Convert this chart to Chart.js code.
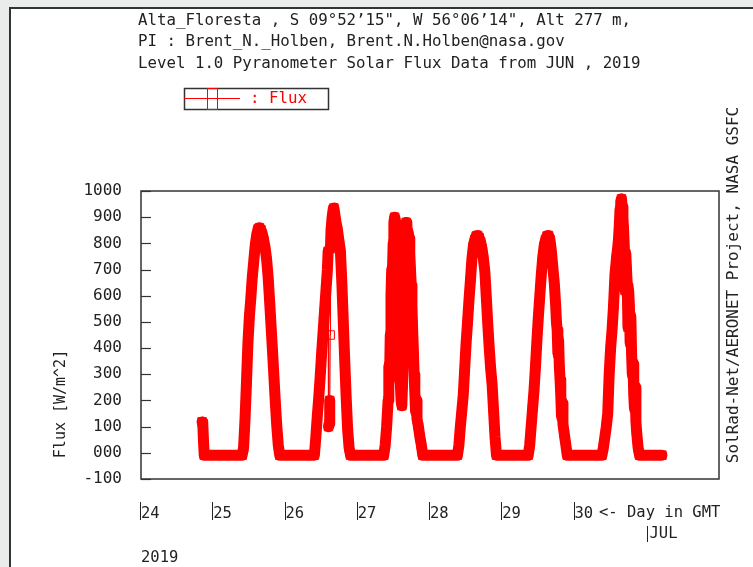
<!DOCTYPE html>
<html>
<head>
<meta charset="utf-8">
<script src="https://cdn.jsdelivr.net/npm/chart.js@4"></script>
<style>
html, body { margin: 0; padding: 0; width: 753px; height: 567px; overflow: hidden; background: #e9eceb; }
#frame { position: absolute; left: 9px; top: 7px; width: 744px; height: 560px; background: #fff; border-left: 2px solid #333; border-top: 2px solid #333; }
#chart { position: absolute; left: 0; top: 0; }
</style>
</head>
<body>
<div id="frame"></div>
<canvas id="chart" width="753" height="567"></canvas>
<script>
const MONO = "'DejaVu Sans Mono', 'Liberation Mono', monospace";

const titleLines = [
    'Alta_Floresta , S 09°52’15", W 56°06’14", Alt 277 m,',
    'PI : Brent_N._Holben, Brent.N.Holben@nasa.gov',
    'Level 1.0 Pyranometer Solar Flux Data from JUN , 2019'
];
const dayTicks = [24, 25, 26, 27, 28, 29, 30];
const fluxTicks = [-100, 0, 100, 200, 300, 400, 500, 600, 700, 800, 900, 1000];

// day in GMT (June) and flux in W/m^2
const t24 = [24.845, 24.855, 24.865, 24.875];
const f24 = [118, 112, 45, -9];

const t25 = [25.40, 25.42, 25.44, 25.46, 25.48, 25.50, 25.52, 25.54, 25.56, 25.58, 25.60, 25.62, 25.64, 25.66,
             25.68, 25.70, 25.72, 25.74, 25.76, 25.78, 25.80, 25.82, 25.84, 25.86, 25.88, 25.90, 25.92];
const f25 = [-9, 20, 130, 270, 420, 520, 590, 670, 730, 790, 830, 855, 860, 852,
             835, 810, 780, 735, 670, 580, 485, 390, 290, 190, 100, 30, -9];

const t26 = [26.40, 26.42, 26.44, 26.46, 26.48, 26.50, 26.52, 26.54, 26.56, 26.58, 26.59, 26.595, 26.605, 26.612,
             26.618, 26.622, 26.63, 26.645, 26.66, 26.67, 26.68, 26.70, 26.72, 26.74, 26.76, 26.78, 26.80, 26.82,
             26.84, 26.86, 26.88, 26.90];
const f26 = [-9, 60, 140, 210, 290, 380, 460, 540, 620, 700, 770, 100, 110, 200,
             450, 780, 850, 900, 930, 935, 915, 880, 850, 810, 770, 650, 500, 350,
             210, 90, 20, -9];

const t27 = [27.36, 27.38, 27.40, 27.42, 27.43, 27.44, 27.45, 27.46, 27.47, 27.48, 27.49, 27.50, 27.51, 27.52,
             27.53, 27.54, 27.55, 27.56, 27.57, 27.58, 27.59, 27.60, 27.61, 27.62, 27.63, 27.64, 27.65, 27.66,
             27.67, 27.68, 27.69, 27.70, 27.71, 27.72, 27.73, 27.74, 27.75, 27.76, 27.77, 27.78, 27.79, 27.80,
             27.81, 27.82, 27.84, 27.86, 27.88, 27.90];
const f27 = [-9, 30, 100, 200, 330, 280, 450, 600, 700, 690, 800, 880, 900, 890,
             870, 820, 720, 600, 480, 360, 260, 200, 180, 260, 400, 560, 700, 820,
             880, 870, 790, 840, 820, 760, 700, 640, 560, 470, 390, 300, 230, 160,
             200, 130, 100, 60, 30, -9];

const t28 = [28.38, 28.40, 28.42, 28.44, 28.46, 28.48, 28.50, 28.52, 28.54, 28.56, 28.58, 28.60, 28.62, 28.64,
             28.66, 28.68, 28.70, 28.72, 28.74, 28.76, 28.78, 28.80, 28.82, 28.84, 28.86, 28.88, 28.90, 28.92];
const f28 = [-9, 30, 100, 160, 220, 320, 420, 500, 585, 660, 740, 790, 815, 828,
             830, 822, 805, 780, 740, 690, 590, 490, 400, 320, 260, 160, 60, -9];

const t29 = [29.36, 29.38, 29.40, 29.42, 29.44, 29.46, 29.48, 29.50, 29.52, 29.54, 29.56, 29.58, 29.60, 29.62,
             29.64, 29.66, 29.68, 29.70, 29.72, 29.74, 29.75, 29.76, 29.77, 29.78, 29.79, 29.80, 29.81, 29.82,
             29.83, 29.84, 29.86, 29.88, 29.90];
const f29 = [-9, 30, 100, 170, 240, 330, 430, 520, 600, 680, 745, 790, 815, 828,
             830, 815, 770, 710, 650, 560, 500, 470, 380, 430, 330, 280, 220, 140,
             190, 110, 70, 30, -9];

const t30 = [30.38, 30.40, 30.42, 30.44, 30.46, 30.48, 30.50, 30.52, 30.54, 30.56, 30.58, 30.60, 30.61, 30.62,
             30.63, 30.64, 30.65, 30.66, 30.67, 30.68, 30.69, 30.70, 30.71, 30.72, 30.73, 30.74, 30.75, 30.76,
             30.77, 30.78, 30.79, 30.80, 30.81, 30.82, 30.83, 30.84, 30.85, 30.86, 30.88, 30.90, 31.21];
const f30 = [-9, 20, 60, 100, 150, 300, 400, 470, 560, 680, 740, 790, 820, 870,
             930, 960, 970, 940, 900, 850, 780, 620, 760, 700, 640, 480, 620, 560,
             420, 520, 380, 300, 340, 220, 170, 250, 120, 80, 20, -9, -9];

// Put the day pieces together into x/y points
function buildPoints() {
    const times = [t24, t25, t26, t27, t28, t29, t30];
    const fluxes = [f24, f25, f26, f27, f28, f29, f30];
    const pts = [];
    times.forEach((ts, i) => {
        ts.forEach((t, j) => pts.push({ x: t, y: fluxes[i][j] }));
    });
    return pts;
}

// Frame, inner ticks, titles and legend drawn on top of the chart
const sheetPlugin = {
    id: 'sheet',
    afterDraw(chart) {
        const ctx = chart.ctx;
        const a = chart.chartArea;
        const xs = chart.scales.x;
        const ys = chart.scales.y;
        ctx.save();

        // plot frame
        ctx.strokeStyle = '#333';
        ctx.lineWidth = 1.5;
        ctx.strokeRect(a.left, a.top, a.right - a.left, a.bottom - a.top);

        // inward ticks on the left axis
        ctx.lineWidth = 1.2;
        fluxTicks.forEach(v => {
            const y = Math.round(ys.getPixelForValue(v)) + 0.5;
            ctx.beginPath();
            ctx.moveTo(a.left, y);
            ctx.lineTo(a.left + 10, y);
            ctx.stroke();
        });

        // little bars glued to the day labels
        ctx.strokeStyle = '#222';
        ctx.lineWidth = 1;
        dayTicks.forEach(d => {
            const x = Math.round(xs.getPixelForValue(d)) - 0.5;
            ctx.beginPath();
            ctx.moveTo(x, 502);
            ctx.lineTo(x, 520);
            ctx.stroke();
        });
        const xJul = Math.round(xs.getPixelForValue(31)) + 0.5;
        ctx.beginPath();
        ctx.moveTo(xJul, 526);
        ctx.lineTo(xJul, 542);
        ctx.stroke();

        ctx.fillStyle = '#222';
        ctx.textBaseline = 'middle';
        ctx.textAlign = 'left';
        ctx.font = '15.5px ' + MONO;
        ctx.fillText('<- Day in GMT', 599, 513);
        ctx.fillText('JUL', xJul + 2, 534);
        ctx.fillText('2019', 141, 558);

        // title lines
        ctx.font = '15.75px ' + MONO;
        titleLines.forEach((line, i) => ctx.fillText(line, 138, 20.5 + i * 21.5));

        // legend
        ctx.strokeStyle = '#333';
        ctx.lineWidth = 1.5;
        ctx.strokeRect(184.5, 88.5, 144, 21);
        ctx.strokeStyle = '#ff0000';
        ctx.lineWidth = 1;
        ctx.beginPath();
        ctx.moveTo(184, 98.5);
        ctx.lineTo(240, 98.5);
        ctx.stroke();
        ctx.strokeRect(207.5, 88.5, 10, 21);
        ctx.fillStyle = '#ff0000';
        ctx.fillText(': Flux', 250, 99);

        // rotated texts
        ctx.fillStyle = '#222';
        ctx.textAlign = 'center';
        ctx.save();
        ctx.translate(61.5, 404);
        ctx.rotate(-Math.PI / 2);
        ctx.font = '15px ' + MONO;
        ctx.fillText('Flux [W/m^2]', 0, 0);
        ctx.restore();
        ctx.save();
        ctx.translate(734, 285);
        ctx.rotate(-Math.PI / 2);
        ctx.font = '16px ' + MONO;
        ctx.fillText('SolRad-Net/AERONET Project, NASA GSFC', 0, 0);
        ctx.restore();

        ctx.restore();
    }
};

new Chart(document.getElementById('chart'), {
    type: 'line',
    data: {
        datasets: [{
            label: 'Flux',
            data: buildPoints(),
            borderColor: '#ff0000',
            borderWidth: 11,
            borderJoinStyle: 'round',
            borderCapStyle: 'round',
            pointStyle: 'rect',
            pointRadius: 6,
            pointBorderWidth: 1,
            pointBorderColor: '#ff0000',
            pointBackgroundColor: 'rgba(255,255,255,0)',
            tension: 0,
            segment: {
                // big jumps (cloud spikes) show as the thin connecting line
                borderWidth: c => Math.abs(c.p1.parsed.y - c.p0.parsed.y) > 240 ? 1.2 : 11
            }
        }]
    },
    options: {
        responsive: false,
        animation: false,
        events: [],
        layout: { padding: { top: 191, right: 34, bottom: 0, left: 0 } },
        plugins: { legend: { display: false }, title: { display: false }, tooltip: { enabled: false } },
        scales: {
            x: {
                type: 'linear',
                min: 24,
                max: 32,
                grid: { display: false },
                border: { display: false },
                afterBuildTicks: s => { s.ticks = dayTicks.map(v => ({ value: v })); },
                afterFit: s => { s.height = 88; },
                ticks: {
                    align: 'start',
                    autoSkip: false,
                    maxRotation: 0,
                    padding: 18,
                    color: '#222',
                    font: { family: MONO, size: 15.5 },
                    callback: v => String(v)
                }
            },
            y: {
                min: -100,
                max: 1000,
                grid: { display: false },
                border: { display: false },
                afterBuildTicks: s => { s.ticks = fluxTicks.map(v => ({ value: v })); },
                afterFit: s => { s.width = 141; },
                ticks: {
                    padding: 11,
                    color: '#222',
                    font: { family: MONO, size: 16 },
                    callback: v => v === 0 ? '000' : String(v)
                }
            }
        }
    },
    plugins: [sheetPlugin]
});
</script>
</body>
</html>
